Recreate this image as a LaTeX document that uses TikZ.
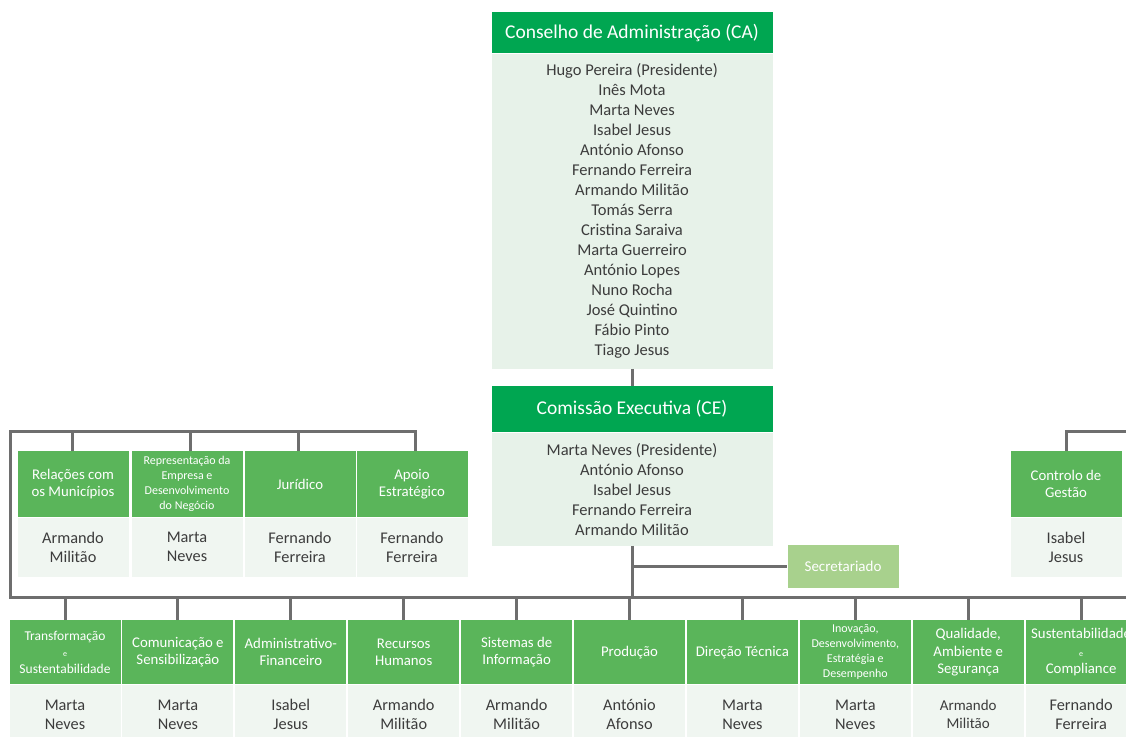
\documentclass[tikz,border=0pt]{standalone}
\usepackage{fontspec}
\setmainfont{Carlito}
\definecolor{topgreen}{RGB}{0,166,81}
\definecolor{boxgreen}{RGB}{90,181,90}
\definecolor{cabody}{RGB}{231,242,233}
\definecolor{boxbody}{RGB}{240,246,241}
\definecolor{secgreen}{RGB}{168,209,141}
\definecolor{linegray}{RGB}{110,110,110}
\definecolor{nametext}{RGB}{60,60,60}
\begin{document}
\begin{tikzpicture}[x=1pt,y=-1pt,
  conn/.style={draw=linegray, line width=3pt},
  tophdr/.style={fill=topgreen, text=white, minimum width=281, inner sep=0, font=\fontsize{19.5}{23}\selectfont},
  topbody/.style={fill=cabody, minimum width=281, inner sep=0, align=center, text=nametext, font=\fontsize{16.5}{20}\selectfont},
  hdr/.style={fill=boxgreen, text=white, minimum width=111, inner sep=0, align=center, font=\fontsize{14.8}{17}\selectfont},
  smallhdr/.style={hdr, font=\fontsize{12}{15}\selectfont},
  body/.style={fill=boxbody, minimum width=111, inner sep=0, align=center, text=nametext, font=\fontsize{16.3}{19}\selectfont},
  sec/.style={fill=secgreen, text=white, minimum width=111, minimum height=43, inner sep=0, font=\fontsize{15}{17}\selectfont},
]
\useasboundingbox (0,0) rectangle (1126,736);
\clip (0,0) rectangle (1126,736);

% Conselho de Administracao
\node[tophdr, minimum height=41, anchor=north] (cah) at (632,12) {Conselho de Administração (CA)};
\node[topbody, minimum height=315, anchor=north] (cab) at (cah.south) {Hugo Pereira (Presidente)\\Inês Mota\\Marta Neves\\Isabel Jesus\\António Afonso\\Fernando Ferreira\\Armando Militão\\Tomás Serra\\Cristina Saraiva\\Marta Guerreiro\\António Lopes\\Nuno Rocha\\José Quintino\\Fábio Pinto\\Tiago Jesus};

% Comissao Executiva
\node[tophdr, minimum height=46, anchor=north] (ceh) at (632,386) {Comissão Executiva (CE)};
\node[topbody, minimum height=113, anchor=north] (ceb) at (ceh.south) {Marta Neves (Presidente)\\António Afonso\\Isabel Jesus\\Fernando Ferreira\\Armando Militão};

% Secretariado
\node[sec] (sec) at (843,566) {Secretariado};

% Left group
\node[hdr, minimum height=66, anchor=north] (lh1) at (73,451) {Relações com\\os Municípios};
\node[body, minimum height=59, anchor=north] (lb1) at (lh1.south) {Armando\\Militão};
\node[smallhdr, minimum height=66, anchor=north] (lh2) at (187,451) {Representação da\\Empresa e\\Desenvolvimento\\do Negócio};
\node[body, minimum height=59, anchor=north] (lb2) at (lh2.south) {Marta\\Neves};
\node[hdr, minimum height=66, anchor=north] (lh3) at (300,451) {Jurídico};
\node[body, minimum height=59, anchor=north] (lb3) at (lh3.south) {Fernando\\Ferreira};
\node[hdr, minimum height=66, anchor=north] (lh4) at (412,451) {Apoio\\Estratégico};
\node[body, minimum height=59, anchor=north] (lb4) at (lh4.south) {Fernando\\Ferreira};

% Right group
\node[hdr, minimum height=66, anchor=north] (rh1) at (1066,451) {Controlo de\\Gestão};
\node[body, minimum height=59, anchor=north] (rb1) at (rh1.south) {Isabel\\Jesus};

% Bottom row
\node[hdr, minimum height=64, anchor=north, font=\fontsize{13.5}{16.5}\selectfont] (bh1) at (65,620) {Transformação\\{\fontsize{8}{8}\selectfont e}\\Sustentabilidade};
\node[body, minimum height=60, anchor=north] (bb1) at (bh1.south) {Marta\\Neves};
\node[hdr, minimum height=64, anchor=north] (bh2) at (177.9,620) {Comunicação e\\Sensibilização};
\node[body, minimum height=60, anchor=north] (bb2) at (bh2.south) {Marta\\Neves};
\node[hdr, minimum height=64, anchor=north] (bh3) at (290.8,620) {Administrativo-\\Financeiro};
\node[body, minimum height=60, anchor=north] (bb3) at (bh3.south) {Isabel\\Jesus};
\node[hdr, minimum height=64, anchor=north] (bh4) at (403.7,620) {Recursos\\Humanos};
\node[body, minimum height=60, anchor=north] (bb4) at (bh4.south) {Armando\\Militão};
\node[hdr, minimum height=64, anchor=north] (bh5) at (516.6,620) {Sistemas de\\Informação};
\node[body, minimum height=60, anchor=north] (bb5) at (bh5.south) {Armando\\Militão};
\node[hdr, minimum height=64, anchor=north] (bh6) at (629.5,620) {Produção};
\node[body, minimum height=60, anchor=north] (bb6) at (bh6.south) {António\\Afonso};
\node[hdr, minimum height=64, anchor=north] (bh7) at (742.4,620) {Direção Técnica};
\node[body, minimum height=60, anchor=north] (bb7) at (bh7.south) {Marta\\Neves};
\node[smallhdr, minimum height=64, anchor=north] (bh8) at (855.3,620) {Inovação,\\Desenvolvimento,\\Estratégia e\\Desempenho};
\node[body, minimum height=60, anchor=north] (bb8) at (bh8.south) {Marta\\Neves};
\node[hdr, minimum height=64, anchor=north, font=\fontsize{14.8}{17.5}\selectfont] (bh9) at (968.2,620) {Qualidade,\\Ambiente e\\Segurança};
\node[body, minimum height=60, anchor=north, font=\fontsize{15}{18}\selectfont] (bb9) at (bh9.south) {Armando\\Militão};
\node[hdr, minimum height=64, anchor=north, font=\fontsize{14.8}{17.5}\selectfont] (bh10) at (1081.1,620) {Sustentabilidade\\{\fontsize{8}{8}\selectfont e}\\Compliance};
\node[body, minimum height=60, anchor=north] (bb10) at (bh10.south) {Fernando\\Ferreira};

% Connectors
\coordinate (bus) at (10,597);
\coordinate (lt) at (10,431);
\coordinate (busR) at (1140,597);
\coordinate (rt) at (1140,431);
\coordinate (d1) at ([xshift=-1pt]lh1.north);
\coordinate (d2) at ([xshift=3pt]lh2.north);
\coordinate (d3) at ([xshift=-2pt]lh3.north);
\coordinate (d4) at ([xshift=3pt]lh4.north);

\draw[conn] (cab.south) -- (ceh.north);
\draw[conn] (ceb.south) -- (ceb.south |- bus);
\draw[conn] (ceb.south |- sec.west) -- (sec.west);
\draw[conn] (busR) -- (bus) -- (lt) -- (lt -| d4) -- (d4);
\foreach \n in {d1,d2,d3} \draw[conn] (lt -| \n) -- (\n);
\draw[conn] (rt) -- (rt -| rh1.north) -- (rh1.north);
\foreach \n in {bh1,bh2,bh3,bh4,bh5,bh6,bh7,bh8,bh9,bh10} \draw[conn] (bus -| \n.north) -- (\n.north);
\end{tikzpicture}
\end{document}
